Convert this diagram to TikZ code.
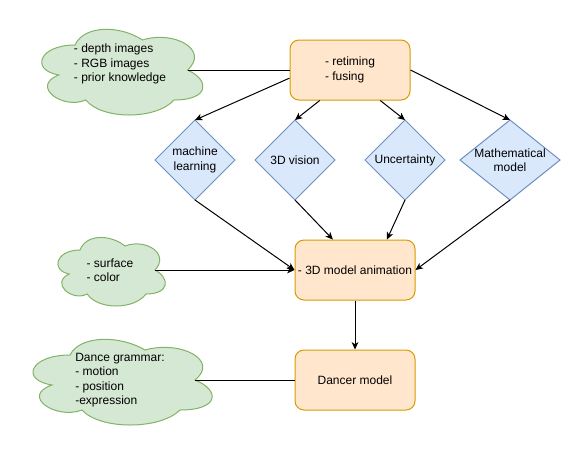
\documentclass[tikz,border=0pt]{standalone}
\usepackage{fontspec}
\setmainfont{Liberation Sans}
\usetikzlibrary{calc,arrows.meta,backgrounds}
\definecolor{boxfill}{HTML}{FFE6CC}
\definecolor{boxline}{HTML}{D79B00}
\definecolor{diafill}{HTML}{DAE8FC}
\definecolor{dialine}{HTML}{6C8EBF}
\definecolor{cloudfill}{HTML}{D5E8D4}
\definecolor{cloudline}{HTML}{82B366}
\newcommand{\mycloud}[3]{%
  \begin{scope}[shift={(#1.north west)}, x=#2, y=-#3]
    \path[cloudst] (0.25,0.25) .. controls (0.05,0.25) and (0,0.5) .. (0.16,0.55)
      .. controls (0,0.66) and (0.18,0.9) .. (0.31,0.8)
      .. controls (0.4,1) and (0.7,1) .. (0.8,0.8)
      .. controls (1,0.8) and (1,0.6) .. (0.875,0.5)
      .. controls (1,0.3) and (0.8,0.1) .. (0.625,0.2)
      .. controls (0.5,0.05) and (0.3,0.05) .. (0.25,0.25) -- cycle;
  \end{scope}}
\newcommand{\mydiamond}[1]{%
  \path[diast] (#1.north) -- (#1.east) -- (#1.south) -- (#1.west) -- cycle;}
\begin{document}
\begin{tikzpicture}[x=0.75pt,y=-0.75pt,
  font=\fontsize{9}{10.8}\selectfont,
  procbox/.style={draw=boxline, fill=boxfill, line width=0.75pt, rounded corners=6.75pt,
    minimum width=90pt, minimum height=45pt, inner sep=0pt, align=left},
  cloudnode/.style={inner sep=0pt, outer sep=0pt, align=left},
  dianode/.style={inner sep=0pt, outer sep=0pt, align=center, minimum width=60pt, minimum height=60pt},
  cloudst/.style={draw=cloudline, fill=cloudfill, line width=0.75pt},
  diast/.style={draw=dialine, fill=diafill, line width=0.75pt},
  conn/.style={draw=black, line width=0.75pt},
  arr/.style={conn, -{Stealth[length=5.5pt,width=5pt,inset=1.5pt]}}
]
\useasboundingbox (0,0) rectangle (581,451);
% boxes
\node[procbox] (T) at (350,70) {- retiming\\- fusing};
\node[procbox] (M) at (355,270) {- 3D model animation};
\node[procbox] (D) at (355,380) {Dancer model};
% clouds (text holders)
\node[cloudnode, minimum width=135pt, minimum height=75pt] (C1) at (120,70)
  {- depth images\\- RGB images\\- prior knowledge\\\mbox{}};
\node[cloudnode, minimum width=90pt, minimum height=60pt] (C2) at (110,270)
  {- surface\\- color};
\node[cloudnode, minimum width=150pt, minimum height=75pt] (C3) at (120,380)
  {Dance grammar:\\- motion\\- position\\-expression};
% diamonds (text holders)
\node[dianode] (ML) at (195,160) {machine\\learning};
\node[dianode] (V) at (295,160) {3D vision};
\node[dianode] (U) at (405,160) {Uncertainty};
\node[dianode, minimum width=75pt] (MM) at (510,160) {Mathematical\\model};
\begin{scope}[on background layer]
  \mycloud{C1}{135pt}{75pt}
  \mycloud{C2}{90pt}{60pt}
  \mycloud{C3}{150pt}{75pt}
  \mydiamond{ML}
  \mydiamond{V}
  \mydiamond{U}
  \mydiamond{MM}
\end{scope}
% connectors
\draw[conn] ($(C1.west)!0.875!(C1.east)$) -- (T.west);
\draw[arr] ($(T.north west)!0.633!(T.south west)$) -- (ML.north);
\draw[arr] ($(T.south west)!0.25!(T.south east)$) -- (V.north);
\draw[arr] ($(T.south west)!0.75!(T.south east)$) -- (U.north);
\draw[arr] (T.east) -- (MM.north);
\draw[arr] (ML.south) -- (M.west);
\draw[arr] (V.south) -- ($(M.north west)!0.317!(M.north east)$);
\draw[arr] (U.south) -- ($(M.north west)!0.764!(M.north east)$);
\draw[arr] (MM.south) -- (M.east);
\draw[arr] ($(C2.west)!0.875!(C2.east)$) -- (M.west);
\draw[arr] (M.south) -- (D.north);
\draw[conn] ($(C3.west)!0.875!(C3.east)$) -- (D.west);
\end{tikzpicture}
\end{document}
